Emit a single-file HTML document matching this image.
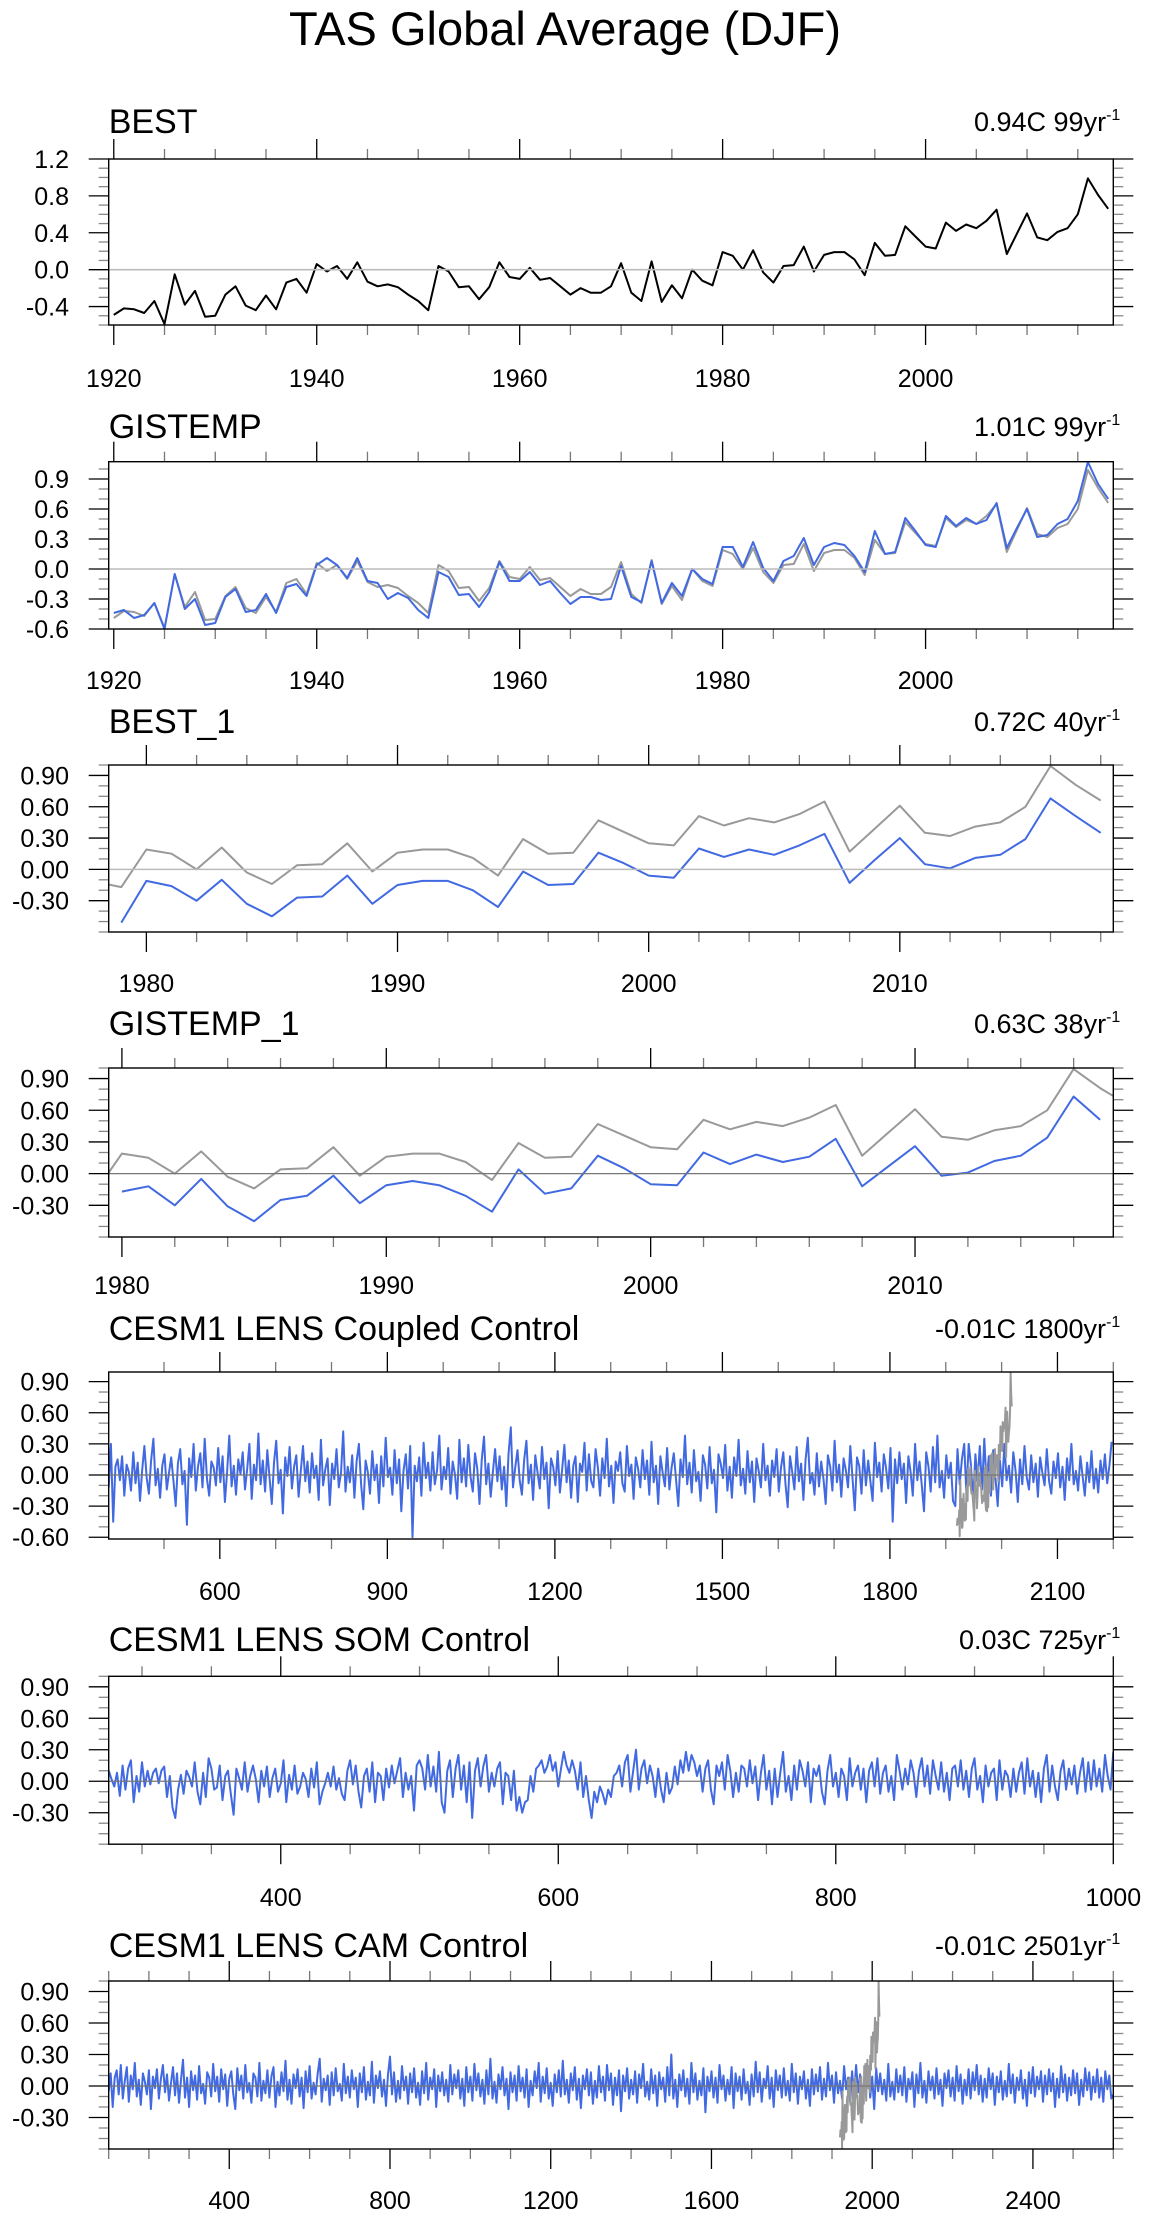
<!DOCTYPE html>
<html><head><meta charset="utf-8"><title>TAS Global Average (DJF)</title>
<style>
html,body{margin:0;padding:0;background:#fff;}
svg{display:block;font-family:"Liberation Sans",Arial,sans-serif;}
</style></head>
<body>
<svg id="chart" width="1149" height="2215" viewBox="0 0 1149 2215" xmlns="http://www.w3.org/2000/svg">
<text x="565" y="45" font-size="47" text-anchor="middle">TAS Global Average (DJF)</text>
</svg>
<script>
// ---------- data ----------
const bestStart = 1920;
const bestValues = [-0.49,-0.42,-0.43,-0.47,-0.34,-0.59,-0.05,-0.38,-0.23,-0.51,-0.50,-0.27,-0.18,-0.39,-0.44,-0.28,-0.43,-0.14,-0.10,-0.25,
0.06,-0.02,0.04,-0.10,0.08,-0.13,-0.18,-0.16,-0.19,-0.27,-0.34,-0.44,0.04,-0.02,-0.19,-0.18,-0.32,-0.19,0.08,-0.08,
-0.10,0.02,-0.11,-0.09,-0.18,-0.27,-0.20,-0.25,-0.25,-0.18,0.07,-0.25,-0.34,0.09,-0.35,-0.17,-0.31,0.00,-0.12,-0.17,
0.19,0.15,0.00,0.21,-0.03,-0.14,0.04,0.05,0.25,-0.02,0.16,0.19,0.19,0.11,-0.06,0.29,0.15,0.16,0.47,0.36,
0.25,0.23,0.51,0.42,0.49,0.45,0.53,0.65,0.17,0.39,0.61,0.35,0.32,0.41,0.45,0.60,0.99,0.81,0.66];
const gistempStart = 1920;
const gistempValues = [-0.44,-0.41,-0.49,-0.46,-0.34,-0.60,-0.05,-0.40,-0.30,-0.56,-0.54,-0.28,-0.20,-0.43,-0.41,-0.25,-0.44,-0.18,-0.15,-0.27,
0.04,0.11,0.04,-0.09,0.11,-0.12,-0.14,-0.30,-0.24,-0.29,-0.41,-0.49,-0.03,-0.08,-0.26,-0.25,-0.38,-0.23,0.07,-0.12,
-0.12,-0.03,-0.16,-0.12,-0.24,-0.35,-0.28,-0.28,-0.31,-0.30,0.03,-0.28,-0.33,0.08,-0.34,-0.14,-0.27,0.00,-0.10,-0.15,
0.22,0.22,0.02,0.27,0.01,-0.12,0.08,0.13,0.31,0.04,0.22,0.26,0.24,0.13,-0.03,0.38,0.15,0.17,0.51,0.38,
0.24,0.22,0.53,0.43,0.51,0.45,0.49,0.66,0.21,0.41,0.60,0.32,0.34,0.45,0.50,0.68,1.07,0.85,0.70];
const best1Start = 1979;
const best1Values = [-0.51,-0.11,-0.16,-0.30,-0.10,-0.33,-0.45,-0.27,-0.26,-0.06,-0.33,-0.15,-0.11,-0.11,-0.20,-0.36,-0.02,-0.15,-0.14,0.16,0.06,
-0.06,-0.08,0.20,0.12,0.19,0.14,0.23,0.34,-0.13,0.09,0.30,0.05,0.01,0.11,0.14,0.29,0.68,0.51,0.35];
const gistemp1Start = 1980;
const gistemp1Values = [-0.17,-0.12,-0.30,-0.05,-0.31,-0.45,-0.25,-0.21,-0.02,-0.28,-0.11,-0.07,-0.11,-0.21,-0.36,0.04,-0.19,-0.14,0.17,0.05,
-0.10,-0.11,0.20,0.09,0.18,0.11,0.16,0.33,-0.12,0.07,0.26,-0.02,0.01,0.12,0.17,0.34,0.73,0.51];
// coupled control (hundredths of C), sampled every 4 years from 401
const coupledStart = 401, coupledStep = 4;
const coupledValues = [
-12,30,-45,8,15,-5,18,-20,10,3,-15,22,-8,12,-25,5,28,-3,-18,14,35,-10,6,-22,9,20,-14,2,17,-6,
-30,11,25,-9,4,-48,16,-2,30,-15,8,21,-12,35,-4,-20,13,7,-10,26,-7,18,-26,3,38,-11,9,-19,15,1,
22,-14,6,30,-23,10,-5,40,-9,14,-16,24,-2,-28,12,33,-8,5,-37,17,-1,27,-13,8,19,-21,4,28,-6,13,
-17,21,-3,9,-24,34,-10,6,16,-29,11,-4,25,-12,2,42,-16,8,-7,19,-22,13,30,-9,-33,14,3,-18,23,-5,
10,-27,18,-11,36,-2,7,-19,24,-8,15,-35,4,20,-13,28,-60,9,-6,17,-20,31,-3,12,-15,22,-9,5,38,-14,
8,-4,26,-18,13,1,-23,34,-7,16,-11,29,-2,-16,21,6,-28,14,37,-9,11,-21,3,25,-6,18,-14,8,-30,20,
46,-12,7,24,-5,-19,15,33,-8,10,-24,19,2,-13,27,-4,12,-32,16,8,-10,23,-17,5,29,-7,14,-22,9,18,
-26,11,3,31,-15,20,-6,-12,25,7,-20,16,-3,35,-11,9,-27,13,4,22,-8,-16,28,-1,10,-23,17,6,-12,24,
-4,14,-19,32,-7,9,-28,18,2,-11,26,-14,7,21,-5,-30,15,-2,38,-9,12,-17,24,-6,3,-25,19,10,-13,27,
-8,5,-36,20,11,-3,29,-15,8,-22,17,-1,34,-10,6,-18,23,-7,13,-26,16,4,-12,30,-5,9,-20,14,-2,25,
-16,7,22,-9,-31,18,3,-14,27,-6,11,-24,15,36,-8,2,-19,21,-11,13,-4,-28,19,8,-15,33,-7,10,-21,16,
5,-12,28,-3,-34,17,9,-18,24,-10,14,-6,-25,31,-2,12,-16,20,7,-13,26,-45,15,-8,22,-4,11,-27,18,3,
-20,30,-5,13,-10,-35,22,8,-16,27,-7,38,-12,4,-22,19,-3,12,-25,-30,25,-9,16,30,-18,30,10,-25,20,-6,
28,-14,35,-8,18,-20,24,-3,-30,14,-11,30,-5,9,-17,22,4,-26,15,-9,28,-2,-14,19,-7,11,-21,17,2,-10,
25,-6,-18,13,-3,21,-12,8,-24,16,-5,30,-9,4,-15,18,-1,-20,12,-7,23,-13,6,-17,14,-4,20,-8,9,32];
// slab ocean control, every 2 years from 276
const somStart = 276, somStep = 2;
const somValues = [
10,2,-5,8,-14,15,-8,12,20,-20,5,-10,18,-5,10,-3,8,12,-2,10,14,-15,5,-25,-35,-8,6,-12,10,4,
-5,18,-10,-22,8,-15,22,12,-8,-6,15,-18,5,10,-12,-32,12,3,-8,18,-10,5,15,2,-20,10,-5,14,-15,3,
12,-10,-2,20,-20,6,-8,15,-12,-5,8,2,-15,12,-6,18,-22,-10,-2,8,-5,14,-8,3,-12,-18,10,20,-3,15,
-10,-25,5,12,-10,18,-20,8,5,-18,12,-6,15,-2,10,22,-15,8,-8,5,-28,15,20,12,-8,25,-5,14,-10,28,
-20,-30,10,20,-15,12,25,-8,15,-20,18,-35,10,22,-5,14,25,-10,8,-5,12,18,-22,8,5,-18,10,-28,-15,-30,
-20,-18,5,-10,12,15,20,8,14,25,10,18,-5,12,28,15,8,20,10,-8,18,-15,5,-18,-35,-10,-20,-5,-12,-22,
-8,-15,5,8,15,-5,18,25,-10,10,30,-8,12,20,-2,15,5,-15,12,-8,-20,8,-12,-6,14,-3,20,8,28,10,
25,18,5,15,-10,12,20,-8,-22,15,5,18,-8,25,10,-15,8,-10,15,12,-5,20,-2,14,-18,8,25,-8,10,-22,
12,-15,8,28,-10,5,-18,15,-8,20,10,-5,18,-20,12,5,15,-10,-22,10,25,-5,8,-15,12,5,-18,22,-5,8,
15,-8,12,-20,10,18,-5,22,-12,8,15,-10,5,-18,25,10,-8,12,-3,20,8,-15,10,22,-5,15,-12,20,5,-8,
18,-10,8,-18,12,15,-5,20,-8,10,-15,12,22,-8,5,-20,15,-5,8,12,-18,20,-8,10,5,-15,12,-10,8,18,
-12,22,-5,10,-15,8,-20,12,25,-10,15,-5,-18,10,20,-8,12,-3,15,-12,8,22,-10,18,-8,20,-5,12,-10,25,
5,-8,28];
// CAM control, every 5 years from 100
const camStart = 100, camStep = 5;
const camValues = [
-5,12,-20,8,15,-8,20,-12,5,18,-15,10,-3,22,-10,6,-18,12,4,-8,15,-22,9,-2,16,-12,7,20,-6,11,
-14,3,18,-9,12,-16,6,25,-11,8,-20,14,-4,10,-13,19,-7,2,-17,13,8,-10,21,-5,9,-15,16,-3,11,-19,
7,14,-8,-22,17,-4,10,-12,20,-6,3,-16,12,8,-10,22,-14,5,-7,15,-11,9,18,-20,4,-9,13,-5,24,-13,
6,-17,11,-2,16,-10,8,-21,14,-6,19,-12,3,-8,12,26,-15,7,-4,10,-18,13,-9,17,-5,2,-14,21,-7,9,
-11,15,-3,8,-20,12,-6,18,-13,4,-9,23,-16,10,-2,14,-10,6,-19,11,28,-8,13,-15,5,-12,19,-4,9,-17,
12,-6,17,-11,3,-18,14,-7,22,-13,8,-3,16,-20,10,-5,13,-9,6,-15,20,-8,11,-2,15,-12,7,-19,18,-6,
9,-14,21,-4,12,-10,6,-17,15,-8,26,-12,4,-16,11,-3,18,-9,7,-22,13,-6,10,-14,19,-5,8,-11,16,-20,
5,-9,14,-2,22,-15,9,-7,17,-12,3,-19,11,-6,15,-10,24,-8,6,-16,12,-4,18,-13,7,-21,10,-3,16,-9,
13,-17,5,-11,19,-6,9,-14,20,-4,12,-18,8,-9,15,-24,10,-5,17,-12,6,-8,14,-16,11,-2,21,-10,4,-13,
16,-7,10,-19,13,-3,8,-15,18,-9,30,-12,6,-20,11,-4,15,-10,7,-17,22,-6,12,-13,5,-9,17,-25,9,-5,
14,-11,8,-16,20,-3,10,-14,6,-8,18,-21,12,-5,9,-13,16,-7,4,-18,11,-10,23,-6,13,-15,7,-2,19,-12,
8,-20,15,-4,10,-11,17,-9,5,-14,21,-6,12,-17,9,-3,14,-12,6,-19,16,-8,11,-5,18,-13,7,-10,22,-4,
10,-16,13,-7,5,-12,19,-3,8,-15,14,-9,20,-6,11,-18,7,-4,15,-11,9,-22,17,-5,12,-8,6,-14,21,-10,
4,-13,16,-6,10,-9,18,-15,7,-3,13,-20,11,-7,22,-11,5,-16,14,-4,9,-12,17,-8,6,-19,12,-2,15,-10,
8,-14,19,-5,11,-17,6,-9,16,-12,13,-4,20,-8,10,-15,7,-11,17,-3,12,-18,9,-6,14,-13,5,-10,21,-7,
11,-16,8,-4,15,-12,6,-19,13,-7,18,-10,9,-3,14,-15,10,-8,16,-5,12,-20,7,-11,19,-6,11,-14,8,-9,
15,-7,12,-18,6,-10,17,-4,13,-13,9,-6,16,-11,8,-15,14,-3,10,-12,-8];

// tick labels
const p1XTicks = [1920,1940,1960,1980,2000];
const p1YTicks = ['-0.4','0.0','0.4','0.8','1.2'];
const p2XTicks = [1920,1940,1960,1980,2000];
const p2YTicks = ['-0.6','-0.3','0.0','0.3','0.6','0.9'];
const p3XTicks = [1980,1990,2000,2010];
const p3YTicks = ['-0.30','0.00','0.30','0.60','0.90'];
const p4XTicks = [1980,1990,2000,2010];
const p4YTicks = ['-0.30','0.00','0.30','0.60','0.90'];
const p5XTicks = [600,900,1200,1500,1800,2100];
const p5YTicks = ['-0.60','-0.30','0.00','0.30','0.60','0.90'];
const p6XTicks = [400,600,800,1000];
const p6YTicks = ['-0.30','0.00','0.30','0.60','0.90'];
const p7XTicks = [400,800,1200,1600,2000,2400];
const p7YTicks = ['-0.30','0.00','0.30','0.60','0.90'];
const panelTitles = ['BEST','GISTEMP','BEST_1','GISTEMP_1','CESM1 LENS Coupled Control','CESM1 LENS SOM Control','CESM1 LENS CAM Control'];
const panelTrends = ['0.94C 99yr','1.01C 99yr','0.72C 40yr','0.63C 38yr','-0.01C 1800yr','0.03C 725yr','-0.01C 2501yr'];

// ---------- drawing ----------
const NS = 'http://www.w3.org/2000/svg';
const svg = document.getElementById('chart');
const L = 108.7, R = 1113.3;
function mk(tag, attrs, parent){
  const e = document.createElementNS(NS, tag);
  for (const k in attrs) e.setAttribute(k, attrs[k]);
  (parent||svg).appendChild(e);
  return e;
}
function series(start, step, vals, scale){
  return vals.map((v,i)=>({x:start+i*step, y:v*scale}));
}
const panels = [
 {top:159,bottom:325,ymin:-0.6,ymax:1.2,x0:1919.5,x1:2018.5,minorX:5,minorY:0.1,xt:p1XTicks,yt:p1YTicks,lab:378,tb:133,
  lines:[{d:series(bestStart,1,bestValues,1),c:'#000',n:'best-line'}]},
 {top:461.7,bottom:629,ymin:-0.6,ymax:1.073,x0:1919.5,x1:2018.5,minorX:5,minorY:0.1,xt:p2XTicks,yt:p2YTicks,lab:680,tb:438,
  lines:[{d:series(bestStart,1,bestValues,1),c:'#999',n:'best-reference-line'},{d:series(gistempStart,1,gistempValues,1),c:'#4169e1',n:'gistemp-line'}]},
 {top:765,bottom:932,ymin:-0.6,ymax:1.0,x0:1978.5,x1:2018.5,minorX:2,minorY:0.1,xt:p3XTicks,yt:p3YTicks,lab:983,tb:733,
  lines:[{d:series(bestStart,1,bestValues,1),c:'#999',n:'best-reference-line'},{d:series(best1Start,1,best1Values,1),c:'#4169e1',n:'best-1-line'}]},
 {top:1068,bottom:1237,ymin:-0.6,ymax:1.0,x0:1979.5,x1:2017.5,minorX:2,minorY:0.1,xt:p4XTicks,yt:p4YTicks,lab:1285,tb:1035,
  lines:[{d:series(bestStart,1,bestValues,1),c:'#999',n:'best-reference-line'},{d:series(gistemp1Start,1,gistemp1Values,1),c:'#4169e1',n:'gistemp-1-line'}]},
 {top:1372,bottom:1539,ymin:-0.617,ymax:0.993,x0:401,x1:2200,minorX:100,minorY:0.1,xt:p5XTicks,yt:p5YTicks,lab:1591,tb:1340,
  lines:[{d:series(coupledStart,coupledStep,coupledValues,0.01),c:'#4169e1',n:'coupled-control-line'},{d:series(bestStart,1,bestValues,1),c:'#999',n:'best-reference-line'}]},
 {top:1676.3,bottom:1844.2,ymin:-0.6,ymax:1.0,x0:276,x1:1000,minorX:50,minorY:0.1,xt:p6XTicks,yt:p6YTicks,lab:1897,tb:1651,
  lines:[{d:series(somStart,somStep,somValues,0.01),c:'#4169e1',n:'som-control-line'}]},
 {top:1981,bottom:2149,ymin:-0.6,ymax:1.0,x0:100,x1:2600,minorX:100,minorY:0.1,xt:p7XTicks,yt:p7YTicks,lab:2200,tb:1957,
  lines:[{d:series(camStart,camStep,camValues,0.01),c:'#4169e1',n:'cam-control-line'},{d:series(bestStart,1,bestValues,1),c:'#999',n:'best-reference-line'}]}
];
const defs = mk('defs',{});
panels.forEach((p,pi)=>{
  const g = mk('g',{});
  
  
  const xs = v => L + (v - p.x0) / (p.x1 - p.x0) * (R - L);
  const ys = v => p.bottom - (v - p.ymin) / (p.ymax - p.ymin) * (p.bottom - p.top);
  const cp = mk('clipPath',{id:'clip'+pi}, defs);
  mk('rect',{x:L,y:p.top,width:R-L,height:p.bottom-p.top}, cp);
  // titles
  const t = mk('text',{x:L,y:p.tb,'font-size':34}, g);
  t.textContent = panelTitles[pi];
  
  
  const rt = mk('text',{x:R+7,y:p.tb-2,'font-size':27,'text-anchor':'end'}, g);
  rt.textContent = panelTrends[pi];
  const sup = mk('tspan',{dy:-11,'font-size':16}, rt);
  sup.textContent = '-1';
  
  
  // minor x ticks
  const mstart = Math.ceil(p.x0 / p.minorX) * p.minorX;
  for (let v = mstart; v <= p.x1 + 1e-6; v += p.minorX){
    const x = xs(v);
    const isMaj = p.xt.indexOf(v) >= 0;
    const len = isMaj ? 20 : 10;
    mk('line',{x1:x,x2:x,y1:p.top,y2:p.top-len,stroke:isMaj?'#000':'#777','stroke-width':1.3}, g);
    mk('line',{x1:x,x2:x,y1:p.bottom,y2:p.bottom+len,stroke:isMaj?'#000':'#777','stroke-width':1.3}, g);
  }
  p.xt.forEach(v=>{
    const x = xs(v);
    const tl = mk('text',{x:x,y:p.lab+9,'font-size':25,'text-anchor':'middle'}, g);
    tl.textContent = String(v);
    
    
  });
  // y ticks
  const ymajVals = p.yt.map(Number);
  for (let k = Math.ceil(p.ymin*10 - 1e-6); k <= Math.floor(p.ymax*10 + 1e-6); k++){
    const v = k/10, y = ys(v);
    const isMaj = ymajVals.some(m => Math.abs(m - v) < 1e-6);
    const len = isMaj ? 20 : 10;
    mk('line',{x1:L,x2:L-len,y1:y,y2:y,stroke:isMaj?'#000':'#888','stroke-width':1.3}, g);
    mk('line',{x1:R,x2:R+len,y1:y,y2:y,stroke:isMaj?'#000':'#888','stroke-width':1.3}, g);
  }
  p.yt.forEach(s=>{
    const y = ys(Number(s));
    const tl = mk('text',{x:69,y:y+9,'font-size':25,'text-anchor':'end'}, g);
    tl.textContent = s;
    
    
  });
  // data lines
  const dg = mk('g',{'clip-path':'url(#clip'+pi+')'}, g);
  p.lines.forEach(ln=>{
    const pts = ln.d.map(o => xs(o.x).toFixed(1) + ',' + ys(o.y).toFixed(1)).join(' ');
    const pl = mk('polyline',{points:pts,fill:'none',stroke:ln.c,'stroke-width':2,'stroke-linejoin':'round'}, dg);
    
    
  });
  // zero line
  const zl = mk('line',{x1:L,x2:R,y1:ys(0),y2:ys(0),stroke:pi<3?'#bbb':'#777','stroke-width':pi<3?1.6:1.2}, g);
  
  
  // frame
  const fr = mk('rect',{x:L,y:p.top,width:R-L,height:p.bottom-p.top,fill:'none',stroke:'#000','stroke-width':1.4}, g);
  
  
});
</script>
</body></html>
